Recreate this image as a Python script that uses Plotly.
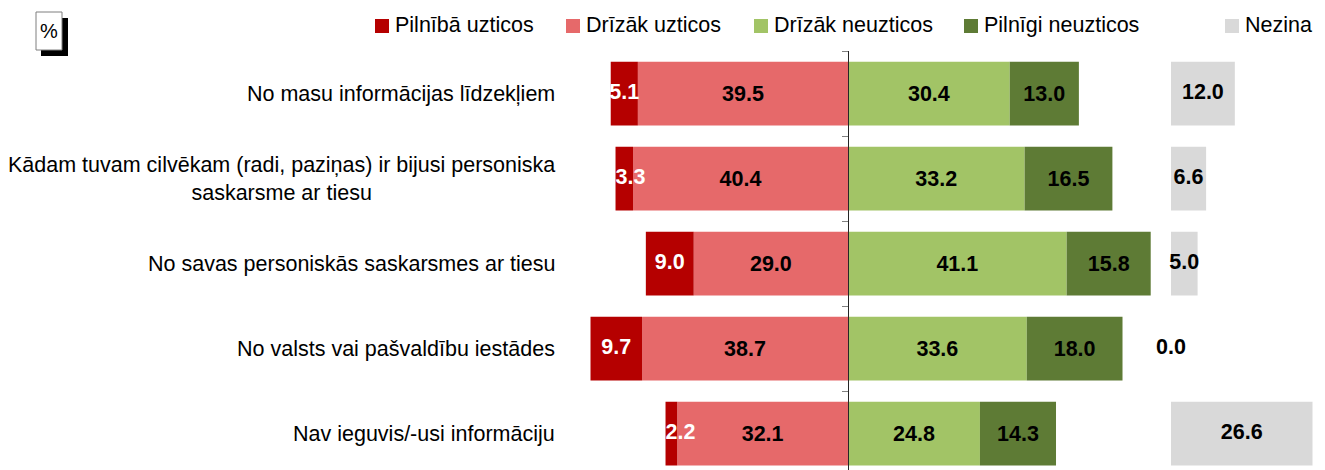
import plotly.graph_objects as go

categories = [
    "No masu informācijas līdzekļiem",
    "Kādam tuvam cilvēkam (radi, paziņas) ir bijusi personiska<br>saskarsme ar tiesu",
    "No savas personiskās saskarsmes ar tiesu",
    "No valsts vai pašvaldību iestādes",
    "Nav ieguvis/-usi informāciju",
]
pilniba_uzticos = [5.1, 3.3, 9.0, 9.7, 2.2]
drizak_uzticos = [39.5, 40.4, 29.0, 38.7, 32.1]
drizak_neuzticos = [30.4, 33.2, 41.1, 33.6, 24.8]
pilnigi_neuzticos = [13.0, 16.5, 15.8, 18.0, 14.3]
nezina = [12.0, 6.6, 5.0, 0.0, 26.6]

series_names = ["Pilnībā uzticos", "Drīzāk uzticos", "Drīzāk neuzticos", "Pilnīgi neuzticos", "Nezina"]
colors = ["#B50000", "#E6696A", "#A2C466", "#5E7B35", "#D9D9D9"]

W, H = 1325, 470
OFF = 8            # page body margin
TOP = 51 - OFF
FONT = "Liberation Sans, Arial, sans-serif"
FS = 21.5
S = 5.32           # px per percentage point
CX = 848           # page pixel of the zero line
MAIN = (560, 1160)
NZ0 = 1171
ROW = 85.0


def px(x):
    return (x - OFF) / W


def py(y):
    return (H - (y - OFF)) / (H - TOP)


def fmt(v):
    return [f"{x:.1f}" for x in v]


fig = go.Figure()

common = dict(orientation="h", y=categories, textangle=0,
              insidetextanchor="middle", constraintext="none", cliponaxis=False,
              showlegend=False, hoverinfo="skip", marker_line_width=0)

fig.add_trace(go.Bar(x=[-v for v in drizak_uzticos], text=fmt(drizak_uzticos), marker_color=colors[1],
                     textposition="inside",
                     textfont=dict(family=FONT, size=FS, color="black", weight="bold"), **common))
fig.add_trace(go.Bar(x=[-v for v in pilniba_uzticos], marker_color=colors[0],
                     textposition="none", **common))
fig.add_trace(go.Bar(x=drizak_neuzticos, text=fmt(drizak_neuzticos), marker_color=colors[2],
                     textposition="inside",
                     textfont=dict(family=FONT, size=FS, color="black", weight="bold"), **common))
fig.add_trace(go.Bar(x=pilnigi_neuzticos, text=fmt(pilnigi_neuzticos), marker_color=colors[3],
                     textposition="inside",
                     textfont=dict(family=FONT, size=FS, color="black", weight="bold"), **common))

# labels of the dark-red segment: centred when they fit, else starting at the bar's left edge
lab_x, lab_pos = [], []
for p, d in zip(pilniba_uzticos, drizak_uzticos):
    if p >= 5:
        lab_x.append(-(d + p / 2))
        lab_pos.append("middle center")
    else:
        lab_x.append(-(d + p))
        lab_pos.append("middle right")
fig.add_trace(go.Scatter(x=lab_x, y=categories, mode="text", text=fmt(pilniba_uzticos),
                         textposition=lab_pos,
                         textfont=dict(family=FONT, size=FS, color="white", weight="bold"),
                         showlegend=False, hoverinfo="skip", cliponaxis=False))

# Nezina panel
fig.add_trace(go.Bar(x=nezina, y=categories, orientation="h", marker_color=colors[4],
                     marker_line_width=0,
                     xaxis="x2", yaxis="y", showlegend=False, hoverinfo="skip"))
fig.add_trace(go.Scatter(x=[v / 2 for v in nezina], y=categories, mode="text", text=fmt(nezina),
                         textposition="middle center",
                         textfont=dict(family=FONT, size=FS, color="black", weight="bold"),
                         xaxis="x2", yaxis="y", showlegend=False, hoverinfo="skip", cliponaxis=False))

annotations = []
shapes = []

# category labels
for c in categories:
    annotations.append(dict(x=px(557), xref="paper", y=c, yref="y", text=c, showarrow=False,
                            xanchor="right", yanchor="middle", align="center",
                            font=dict(family=FONT, size=FS, color="black")))

# manual legend
legend_sq = [375, 566, 754, 964, 1225]
for name, col, x0 in zip(series_names, colors, legend_sq):
    shapes.append(dict(type="rect", xref="paper", yref="paper", x0=px(x0), x1=px(x0 + 14),
                       y0=py(33), y1=py(19), fillcolor=col, line=dict(width=0)))
    annotations.append(dict(x=px(x0 + 18), xref="paper", y=py(25), yref="paper", text=name,
                            showarrow=False, xanchor="left", yanchor="middle",
                            font=dict(family=FONT, size=FS, color="black")))

# % box with shadow
shapes.append(dict(type="rect", xref="paper", yref="paper", x0=px(41), x1=px(68), y0=py(56), y1=py(18),
                   fillcolor="black", line=dict(width=0)))
shapes.append(dict(type="rect", xref="paper", yref="paper", x0=px(36), x1=px(62), y0=py(50), y1=py(12),
                   fillcolor="white", line=dict(color="#7f7f7f", width=1)))
annotations.append(dict(x=px(49), xref="paper", y=py(31), yref="paper", text="%", showarrow=False,
                        xanchor="center", yanchor="middle", font=dict(family=FONT, size=20, color="black")))

fig.update_layout(
    width=W, height=H,
    margin=dict(l=0, r=0, t=TOP, b=0),
    paper_bgcolor="white", plot_bgcolor="white",
    barmode="relative", bargap=0.25,
    xaxis=dict(domain=[px(MAIN[0]), px(MAIN[1])],
               range=[(MAIN[0] - CX) / S, (MAIN[1] - CX) / S],
               visible=False, fixedrange=True),
    xaxis2=dict(domain=[px(NZ0), 1], range=[0, (W + OFF - NZ0) / S], anchor="y",
                visible=False, fixedrange=True),
    yaxis=dict(type="category", range=[-0.5 + (H - TOP) / ROW, -0.5],
               anchor="free", position=px(CX), showticklabels=False,
               showline=True, linecolor="#262626", linewidth=1,
               ticks="outside", tickson="boundaries", ticklen=6, tickcolor="#808080", tickwidth=1,
               showgrid=False, zeroline=False, fixedrange=True),
    annotations=annotations,
    shapes=shapes,
    font=dict(family=FONT),
)

fig.write_html("out.html")
